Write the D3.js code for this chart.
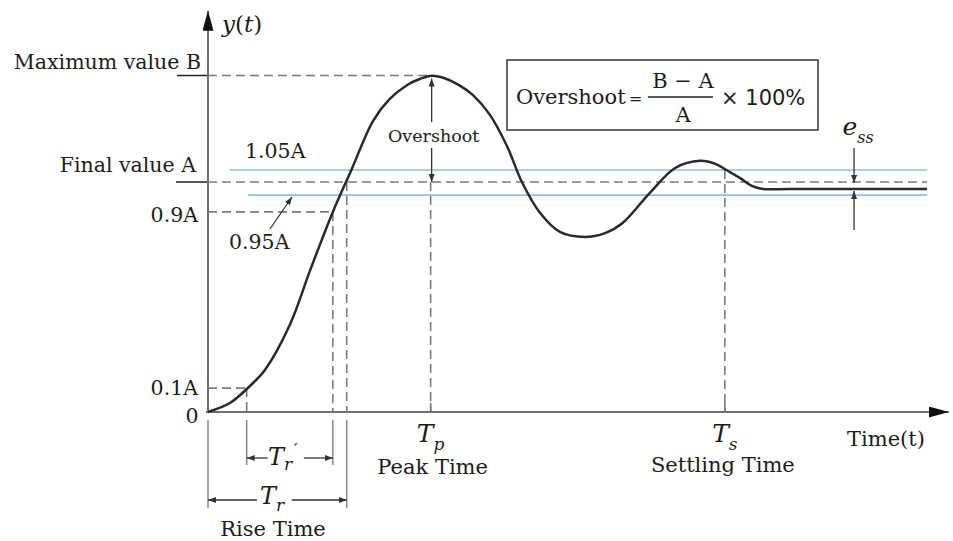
<!DOCTYPE html>
<html><head><meta charset="utf-8">
<script src="https://cdn.jsdelivr.net/npm/d3@7"></script>
<style>body{margin:0;background:#fff}svg{display:block}</style>
</head><body>
<svg id="c" width="953" height="541"></svg>
<script>
// ---- data (time in arbitrary units, response in units of the final value A) ----
const timeValues = [0,0.30,0.53,0.78,1.12,1.40,1.71,1.97,2.26,2.49,2.73,2.90,3.07,3.25,3.45,3.63,3.86,4.10,4.30,4.55,4.82,5.16,5.44,5.68,6.05,6.40,6.74,6.95,7.10,7.29,7.45,7.60,7.97,9.85];
const responseValues = [0,0.039,0.100,0.183,0.378,0.617,0.870,1.057,1.265,1.361,1.422,1.448,1.462,1.450,1.419,1.378,1.293,1.153,1.000,0.865,0.783,0.761,0.778,0.822,0.952,1.061,1.092,1.079,1.052,1.017,0.983,0.970,0.970,0.970];
const levelLabels = ["0","0.1A","0.9A","0.95A","Final value A","1.05A","Maximum value B"];
const levelValues = [0,0.104,0.87,0.943,1.0,1.052,1.463];
const keyTimeLabels = ["0.1A time","0.9A time","A time","Tp","Ts"];
const keyTimes = [0.53,1.71,1.90,3.05,7.08];
const timeEnd = 9.85;
const axisEnd = [10.15, 1.745];

const svg = d3.select("#c");
const x = d3.scaleLinear().domain([0,10]).range([208,938]);
const y = d3.scaleLinear().domain([0,1]).range([412,182]);
const L = n => levelValues[levelLabels.indexOf(n)];
const K = n => keyTimes[keyTimeLabels.indexOf(n)];

const serif = "DejaVu Serif";
const axisCol = "#707070", dashCol = "#7a7c76", blue = "#8dc1e2", ink = "#2a2a2a", txtCol = "#1c1c1c";

// markers
const defs = svg.append("defs");
function marker(id, w, h, col){
  defs.append("marker").attr("id",id).attr("viewBox",`0 0 ${w} ${h}`)
    .attr("refX",w).attr("refY",h/2).attr("markerWidth",w).attr("markerHeight",h)
    .attr("markerUnits","userSpaceOnUse").attr("orient","auto")
    .append("path").attr("d",`M0,0L${w},${h/2}L0,${h}Z`).attr("fill",col);
}
marker("big",20,11,"#111");
marker("sm",8,6,"#333");

// blue tolerance band lines
svg.append("line").attr("x1",x(0.30)).attr("x2",x(timeEnd)).attr("y1",y(L("1.05A"))).attr("y2",y(L("1.05A")))
  .attr("stroke",blue).attr("stroke-width",1.6);
svg.append("line").attr("x1",x(0.55)).attr("x2",x(timeEnd)).attr("y1",y(L("0.95A"))).attr("y2",y(L("0.95A")))
  .attr("stroke",blue).attr("stroke-width",1.6);

// dashed guide lines
const dash = (x1,y1,x2,y2) => svg.append("line").attr("x1",x1).attr("y1",y1).attr("x2",x2).attr("y2",y2)
  .attr("stroke",dashCol).attr("stroke-width",1.6).attr("stroke-dasharray","9,5");
dash(x(0), y(L("Maximum value B")), x(K("Tp")), y(L("Maximum value B")));
dash(x(0), y(L("Final value A")), x(timeEnd), y(L("Final value A")));
dash(x(0), y(L("0.9A")), x(K("0.9A time")), y(L("0.9A")));
dash(x(0), y(L("0.1A")), x(K("0.1A time")), y(L("0.1A")));
dash(x(K("0.1A time")), y(L("0.1A")), x(K("0.1A time")), y(0));
dash(x(K("0.9A time")), y(L("0.9A")), x(K("0.9A time")), y(0));
dash(x(K("A time")), y(L("Final value A")), x(K("A time")), y(0));
dash(x(K("Tp")), y(L("Final value A")), x(K("Tp")), y(0));
dash(x(K("Ts")), y(L("1.05A")), x(K("Ts")), y(0));

// short solid underlines at the labelled levels
const solid = (x1,y1,x2,y2,col,w) => svg.append("line").attr("x1",x1).attr("y1",y1).attr("x2",x2).attr("y2",y2)
  .attr("stroke",col||"#888").attr("stroke-width",w||1.5);
solid(x(0)-31, y(L("Maximum value B")), x(0), y(L("Maximum value B")), "#222", 1.5);
solid(x(0)-32, y(L("Final value A")), x(0), y(L("Final value A")), "#222", 1.5);

// axes
svg.append("line").attr("x1",x(0)-2).attr("y1",y(0)).attr("x2",x(axisEnd[0])).attr("y2",y(0))
  .attr("stroke",axisCol).attr("stroke-width",2).attr("marker-end","url(#big)");
svg.append("line").attr("x1",x(0)).attr("y1",y(0)+1).attr("x2",x(0)).attr("y2",y(axisEnd[1]))
  .attr("stroke",axisCol).attr("stroke-width",2).attr("marker-end","url(#big)");
[K("Tp"),K("Ts")].forEach(t => solid(x(t), y(0)-9, x(t), y(0), axisCol, 1.5));

// response curve
const line = d3.line().x((d,i)=>x(timeValues[i])).y(d=>y(d)).curve(d3.curveCatmullRom.alpha(0.5));
svg.append("path").attr("d",line(responseValues)).attr("fill","none").attr("stroke",ink).attr("stroke-width",2.5);

// rise-time brackets below axis
const b0 = y(0)+8;
solid(x(0), b0, x(0), b0+88, "#888", 1.5);
solid(x(K("A time")), b0, x(K("A time")), b0+88, "#888", 1.5);
solid(x(K("0.1A time")), b0, x(K("0.1A time")), b0+45, "#888", 1.5);
solid(x(K("0.9A time")), b0, x(K("0.9A time")), b0+45, "#888", 1.5);
const arr = (x1,y1,x2,y2) => svg.append("line").attr("x1",x1).attr("y1",y1).attr("x2",x2).attr("y2",y2)
  .attr("stroke","#333").attr("stroke-width",1.3).attr("marker-end","url(#sm)");
arr(x(K("0.1A time"))+21, 458, x(K("0.1A time")), 458);
arr(x(K("0.9A time"))-29, 458, x(K("0.9A time")), 458);
arr(x(0)+49, 500, x(0), 500);
arr(x(K("A time"))-55, 500, x(K("A time")), 500);

// overshoot arrows
arr(x(K("Tp"))+1, 122, x(K("Tp"))+1, y(L("Maximum value B"))+3);
arr(x(K("Tp"))+1, 148, x(K("Tp"))+1, y(L("Final value A")));
// e_ss arrows
arr(x(8.85), 148, x(8.85), y(L("Final value A"))+1);
arr(x(8.85), 230, x(8.85), y(responseValues[responseValues.length-1])+2);
// 0.95A pointer
arr(270, 229, 292, 197);

// text helpers
const txt = (s, tx, ty, opt={}) => svg.append("text").attr("x",tx).attr("y",ty)
  .attr("font-family",opt.ff||serif).attr("font-size",opt.fs||20.5).attr("fill",opt.col||txtCol)
  .attr("text-anchor",opt.anchor||"start").attr("font-style",opt.style||"normal").text(s);

// level labels
txt("Maximum value B", 201, 69, {anchor:"end"});
txt("Final value A", 196, 172, {anchor:"end"});
txt("1.05A", 245, 158);
txt("0.9A", 198, 222, {anchor:"end"});
txt("0.95A", 229, 249);
txt("0.1A", 198, 395, {anchor:"end"});
txt("0", 192, 423, {anchor:"middle"});

// y(t)
const yt = svg.append("text").attr("x",222).attr("y",32).attr("font-family",serif).attr("font-size",23).attr("fill",txtCol);
yt.append("tspan").attr("font-style","italic").text("y");
yt.append("tspan").text("(");
yt.append("tspan").attr("font-style","italic").text("t");
yt.append("tspan").text(")");

// Overshoot label in chart
txt("Overshoot", x(K("Tp"))+3, 142, {anchor:"middle", fs:17.5});

// formula box
svg.append("rect").attr("x",507).attr("y",60).attr("width",311).attr("height",70)
  .attr("fill","none").attr("stroke","#333").attr("stroke-width",1.5);
txt("Overshoot", 516, 104, {fs:21});
txt("=", 629, 104, {fs:16});
txt("B − A", 683, 88, {anchor:"middle", fs:21});
solid(648, 97, 713, 97, "#222", 1.5);
txt("A", 683, 122, {anchor:"middle", fs:21});
txt("× 100%", 721, 105, {ff:"DejaVu Sans", fs:21});

// subscript math labels
function sub(base, s, tx, ty, fs, ssz, anchor){
  const t = svg.append("text").attr("x",tx).attr("y",ty).attr("font-family",serif)
    .attr("font-size",fs).attr("fill",txtCol).attr("font-style","italic").attr("text-anchor",anchor||"middle");
  t.append("tspan").text(base);
  t.append("tspan").attr("font-size",ssz).attr("dy",fs*0.3).text(s);
  return t;
}
sub("T","p", x(K("Tp")), 442, 25, 17);
txt("Peak Time", x(K("Tp"))+2, 474, {anchor:"middle", fs:21});
sub("T","s", x(K("Ts")), 442, 25, 17);
txt("Settling Time", x(K("Ts"))-2, 472, {anchor:"middle", fs:21});
txt("Time(t)", 847, 446, {fs:21});
sub("e","ss", 858, 135, 25, 16);

// T'_r and T_r
txt("T", 268, 465, {fs:24, style:"italic"});
txt("r", 284, 470, {fs:17, style:"italic"});
txt("′", 294, 455, {fs:16});
sub("T","r", 272, 504, 24, 17);
txt("Rise Time", 273, 536, {anchor:"middle", fs:21});
</script>
</body></html>
